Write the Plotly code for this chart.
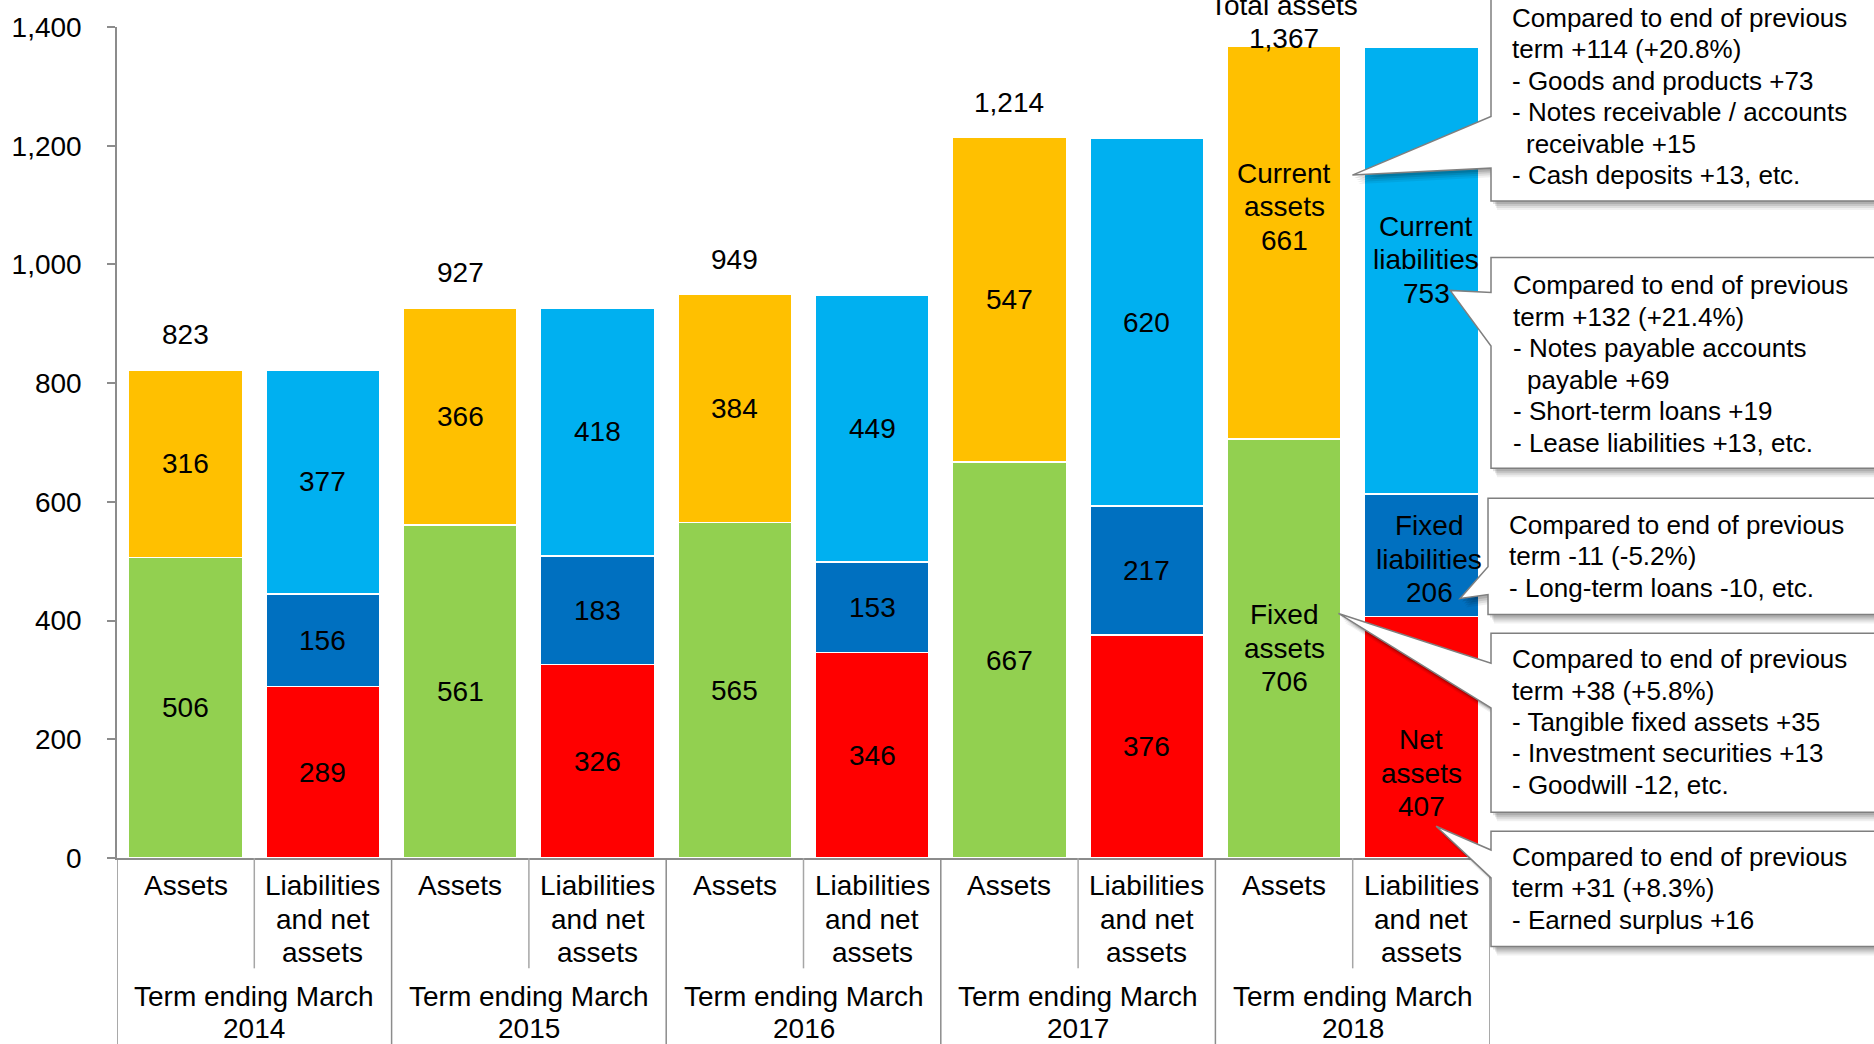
import plotly.graph_objects as go

# ---- data (100 million yen) ----
terms = ["2014", "2015", "2016", "2017", "2018"]
group_prefix = "Term ending March"
assets_label = ["Assets"]
liab_label = ["Liabilities", "and net", "assets"]

fixed_assets = [506, 561, 565, 667, 706]
current_assets = [316, 366, 384, 547, 661]
net_assets = [289, 326, 346, 376, 407]
fixed_liabilities = [156, 183, 153, 217, 206]
current_liabilities = [377, 418, 449, 620, 753]
total_assets = [823, 927, 949, 1214, 1367]

y_ticks = [0, 200, 400, 600, 800, 1000, 1200, 1400]

# names shown inside the latest term's bars
seg_names_latest = {
    "current_assets": ["Current", "assets"],
    "fixed_assets": ["Fixed", "assets"],
    "current_liabilities": ["Current", "liabilities"],
    "fixed_liabilities": ["Fixed", "liabilities"],
    "net_assets": ["Net", "assets"],
}
total_caption = "Total assets"

callout_current_assets = [
    "Compared to end of previous", "term +114 (+20.8%)", "- Goods and products +73",
    "- Notes receivable / accounts", "  receivable +15", "- Cash deposits +13, etc.",
]
callout_current_liab = [
    "Compared to end of previous", "term +132 (+21.4%)", "- Notes payable accounts",
    "  payable +69", "- Short-term loans +19", "- Lease liabilities +13, etc.",
]
callout_fixed_liab = [
    "Compared to end of previous", "term -11 (-5.2%)", "- Long-term loans -10, etc.",
]
callout_fixed_assets = [
    "Compared to end of previous", "term +38 (+5.8%)", "- Tangible fixed assets +35",
    "- Investment securities +13", "- Goodwill -12, etc.",
]
callout_net_assets = [
    "Compared to end of previous", "term +31 (+8.3%)", "- Earned surplus +16",
]

# ---- colours / fonts ----
GREEN, ORANGE, RED, DBLUE, LBLUE = "#92D050", "#FFC000", "#FF0000", "#0070C0", "#00B0F0"
AXIS = "#8C8C8C"
FONT = "Liberation Sans, Arial, sans-serif"
FS = 28
FS_NOTE = 26

# ---- geometry helpers (pixel -> paper) ----
W, H = 1874, 1044
L, R, T, B = 113, 384, 22, 186
PW, PH = W - L - R, H - T - B


def px(x):
    return (x - L) / PW


def py(y):
    return (T + PH - y) / PH


n = len(terms)
x_assets = [2 * i for i in range(n)]
x_liab = [2 * i + 1 for i in range(n)]

fig = go.Figure()
bar_kw = dict(width=0.83, marker_line_color="white", marker_line_width=1.5,
              hoverinfo="skip", showlegend=False)
fig.add_bar(x=x_assets, y=fixed_assets, marker_color=GREEN, **bar_kw)
fig.add_bar(x=x_assets, y=current_assets, marker_color=ORANGE, **bar_kw)
fig.add_bar(x=x_liab, y=net_assets, marker_color=RED, **bar_kw)
fig.add_bar(x=x_liab, y=fixed_liabilities, marker_color=DBLUE, **bar_kw)
fig.add_bar(x=x_liab, y=current_liabilities, marker_color=LBLUE, **bar_kw)

annotations = []
shapes = []


def txt(x, y, text, size=FS, xref="x", yref="y", xanchor="center", yanchor="middle",
        xshift=0, yshift=0):
    annotations.append(dict(x=x, y=y, xref=xref, yref=yref, text=text, showarrow=False,
                            xanchor=xanchor, yanchor=yanchor, xshift=xshift, yshift=yshift,
                            font=dict(family=FONT, size=size, color="black")))


LINE = 33.5

# segment value labels
segments = [
    ("fixed_assets", x_assets, fixed_assets, [0] * n, 0, 0),
    ("current_assets", x_assets, current_assets, fixed_assets, 0, 36),
    ("net_assets", x_liab, net_assets, [0] * n, 0, -36),
    ("fixed_liabilities", x_liab, fixed_liabilities, net_assets, 8, -4),
    ("current_liabilities", x_liab, current_liabilities,
     [a + b for a, b in zip(net_assets, fixed_liabilities)], 5, 11),
]
for key, xs, vals, bases, dx_last, dy_last in segments:
    for i, (xv, v, b0) in enumerate(zip(xs, vals, bases)):
        yc = b0 + v / 2
        if i == n - 1:
            lines = seg_names_latest[key] + [str(v)]
            k = len(lines)
            for j, line in enumerate(lines):
                txt(xv, yc, line, xshift=dx_last,
                    yshift=dy_last + ((k - 1) / 2 - j) * LINE)
        else:
            txt(xv, yc, str(v))

# total labels above asset bars
for i, (xv, tv) in enumerate(zip(x_assets, total_assets)):
    if i == n - 1:
        txt(xv, tv, total_caption, yshift=41)
        txt(xv, tv, f"{tv:,}", yshift=8)
    else:
        txt(xv, tv, f"{tv:,}", yshift=35)

# category labels below the axis
for i in range(n):
    for j, line in enumerate(assets_label):
        txt(x_assets[i], py(886 + j * LINE), line, yref="paper")
    for j, line in enumerate(liab_label):
        txt(x_liab[i], py(886 + j * LINE), line, yref="paper")
    txt(2 * i + 0.5, py(997), group_prefix, yref="paper")
    txt(2 * i + 0.5, py(1030), terms[i], yref="paper")

# dividers between categories
for i in range(n + 1):
    shapes.append(dict(type="line", xref="x", yref="paper", x0=2 * i - 0.5, x1=2 * i - 0.5,
                       y0=py(858), y1=py(H + 5), line=dict(color=AXIS, width=1.5)))
for i in range(n):
    shapes.append(dict(type="line", xref="x", yref="paper", x0=2 * i + 0.5, x1=2 * i + 0.5,
                       y0=py(858), y1=py(969), line=dict(color="#A6A6A6", width=1.5)))

# callout boxes: (left, top, bottom, pointer base top, pointer base bottom, tip, text x, first line y)
RIGHT = W + 20
callouts = [
    (1491, -20, 197, 112, 164, (1352, 171), 1510, 13, callout_current_assets),
    (1491, 254, 466, 289, 343, (1450, 287), 1511, 282, callout_current_liab),
    (1488, 496, 613, 565, 593, (1460, 597), 1507, 523, callout_fixed_liab),
    (1491, 632, 812, 662, 707, (1338, 612), 1510, 658, callout_fixed_assets),
    (1491, 831, 947, 850, 878, (1436, 826), 1510, 857, callout_net_assets),
]


def bubble(left, top, bottom, b1, b2, tip, dx=0, dy=0):
    pts = [(left, top), (RIGHT, top), (RIGHT, bottom), (left, bottom), (left, b2), tip, (left, b1)]
    return "M " + " L ".join(f"{px(x + dx):.5f},{py(y + dy):.5f}" for x, y in pts) + " Z"


for left, top, bottom, b1, b2, tip, tx, ty, lines in callouts:
    for ox, oy, op in [(6, 9, 0.06), (5, 7, 0.08), (4, 5, 0.10), (2, 3, 0.12)]:
        shapes.append(dict(type="path", xref="paper", yref="paper", layer="above",
                           path=bubble(left, top, bottom, b1, b2, tip, ox, oy),
                           fillcolor="black", opacity=op, line=dict(width=0)))
    shapes.append(dict(type="path", xref="paper", yref="paper", layer="above",
                       path=bubble(left, top, bottom, b1, b2, tip),
                       fillcolor="white", line=dict(color="#7F7F7F", width=1.5)))
    for j, line in enumerate(lines):
        indent = 14 if line.startswith("  ") else 0
        txt(px(tx + indent), py(ty + j * 31.6), line.strip(), size=FS_NOTE,
            xref="paper", yref="paper", xanchor="left")

fig.update_layout(
    width=W, height=H, barmode="stack", bargap=0.17,
    margin=dict(l=L, r=R, t=T, b=B, pad=0),
    paper_bgcolor="white", plot_bgcolor="white",
    font=dict(family=FONT, size=FS, color="black"),
    annotations=annotations, shapes=shapes,
    xaxis=dict(range=[-0.5, 2 * n - 0.5], showticklabels=False, showgrid=False,
               zeroline=False, showline=True, linecolor=AXIS, linewidth=1.5, ticks=""),
    yaxis=dict(range=[0, 1400], tickvals=y_ticks, tickformat=",", ticks="outside",
               ticklen=8, tickwidth=1.5, tickcolor=AXIS, showline=True, linecolor=AXIS,
               linewidth=1.5, showgrid=False, zeroline=False, ticklabelstandoff=20,
               tickfont=dict(family=FONT, size=FS, color="black")),
)

fig.write_html("out.html")
